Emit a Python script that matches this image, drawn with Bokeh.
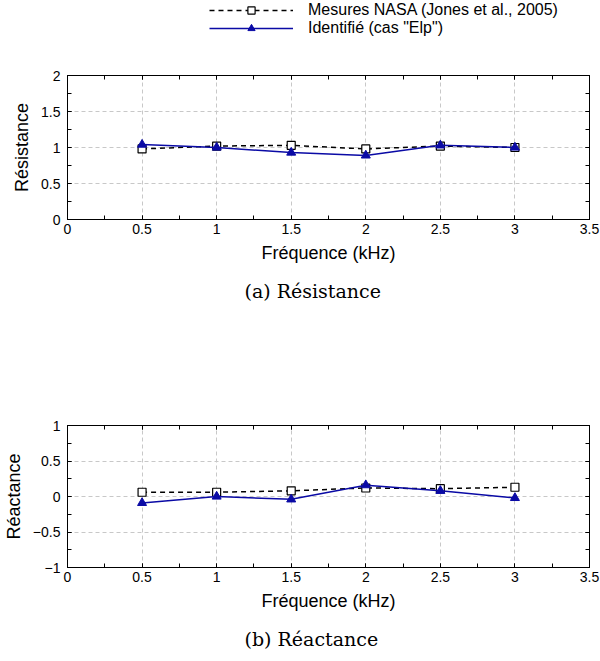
from bokeh.plotting import figure
from bokeh.layouts import column
from bokeh.models import (Range1d, SingleIntervalTicker, LinearAxis, Legend, LegendItem,
                          CustomJSTickFormatter)
from bokeh.embed import file_html
from bokeh.resources import INLINE

freq = [0.5, 1.0, 1.5, 2.0, 2.5, 3.0]
res_nasa = [0.98, 1.02, 1.03, 0.98, 1.02, 1.00]
res_ident = [1.04, 1.00, 0.93, 0.89, 1.03, 1.00]
rea_nasa = [0.06, 0.06, 0.08, 0.12, 0.11, 0.13]
rea_ident = [-0.09, 0.00, -0.04, 0.16, 0.08, -0.02]

label_nasa = "Mesures NASA (Jones et al., 2005)"
label_ident = 'Identifié (cas "Elp")'
xlabel = "Fréquence (kHz)"

SANS = "Liberation Sans"
SERIF = "DejaVu Serif"
BLUE = "#0A0AA5"
DASH = "5 4"

NASA_STYLE = dict(line_color="black", line_dash=DASH, line_width=1.5)
NASA_MARK = dict(marker="square", size=8, fill_color="white", line_color="black", line_width=1.2)
IDENT_STYLE = dict(line_color=BLUE, line_width=1.5)
IDENT_MARK = dict(marker="triangle", size=9, fill_color=BLUE, line_color=BLUE)


def style_axis(ax, show_labels=True):
    ax.ticker = SingleIntervalTicker(interval=0.5, num_minor_ticks=2)
    ax.major_tick_in = 4
    ax.major_tick_out = 0
    ax.minor_tick_in = 4
    ax.minor_tick_out = 0
    ax.axis_line_color = "black"
    ax.major_tick_line_color = "black"
    ax.minor_tick_line_color = "black"
    ax.major_label_text_font = SANS
    ax.major_label_text_font_size = "14px"
    ax.major_label_text_color = "black"
    ax.major_label_standoff = 4
    ax.axis_label_text_font = SANS
    ax.axis_label_text_font_size = "18px"
    ax.axis_label_text_font_style = "normal"
    ax.axis_label_text_color = "black"
    if not show_labels:
        ax.formatter = CustomJSTickFormatter(code="return ''")
        ax.major_label_standoff = 0


def make(yr, ylabel, caption, nasa, ident, height, top, bottom, cap_standoff):
    p = figure(width=600, height=height, output_backend="svg", toolbar_location=None,
               x_range=Range1d(0, 3.5), y_range=Range1d(*yr),
               min_border_left=66, min_border_right=11,
               min_border_top=top, min_border_bottom=bottom,
               title_location="below")
    p.outline_line_color = "black"
    p.xaxis.axis_label = xlabel
    p.yaxis.axis_label = ylabel
    style_axis(p.xaxis[0])
    style_axis(p.yaxis[0])
    p.yaxis.major_label_standoff = 7
    p.xaxis.axis_label_standoff = 6
    p.yaxis.axis_label_standoff = 6
    ra = LinearAxis()
    style_axis(ra, False)
    ta = LinearAxis()
    style_axis(ta, False)
    p.add_layout(ra, "right")
    p.add_layout(ta, "above")
    for g in (p.xgrid[0], p.ygrid[0]):
        g.grid_line_color = "#c8c8c8"
        g.grid_line_dash = "4 3"
        g.ticker = SingleIntervalTicker(interval=0.5)
    p.line(freq, nasa, **NASA_STYLE)
    p.scatter(freq, nasa, **NASA_MARK)
    p.line(freq, ident, **IDENT_STYLE)
    p.scatter(freq, ident, **IDENT_MARK)
    p.title.text = caption
    p.title.text_font = SERIF
    p.title.text_font_size = "19px"
    p.title.text_font_style = "normal"
    p.title.text_color = "black"
    p.title.align = "left"
    p.title.offset = 177
    p.title.standoff = cap_standoff
    return p


# legend strip on top (its renderers lie outside its visible range)
p0 = figure(width=600, height=40, output_backend="svg", toolbar_location=None,
            x_axis_type=None, y_axis_type=None, x_range=Range1d(10, 11), y_range=Range1d(10, 11),
            min_border_left=0, min_border_right=0, min_border_top=0, min_border_bottom=0)
p0.outline_line_color = None
p0.grid.visible = False
ln = p0.line(freq, res_nasa, **NASA_STYLE)
sn = p0.scatter(freq, res_nasa, **NASA_MARK)
li = p0.line(freq, res_ident, **IDENT_STYLE)
si = p0.scatter(freq, res_ident, **IDENT_MARK)
leg = Legend(items=[LegendItem(label=label_nasa, renderers=[ln, sn]),
                    LegendItem(label=label_ident, renderers=[li, si])],
             location=(142, 3), orientation="vertical")
leg.glyph_width = 84
leg.glyph_height = 18
leg.label_height = 18
leg.spacing = 0
leg.label_standoff = 15
leg.padding = 0
leg.margin = 0
leg.border_line_color = None
leg.background_fill_alpha = 0
leg.label_text_font = SANS
leg.label_text_font_size = "16px"
leg.label_text_color = "black"
p0.add_layout(leg, "center")

p1 = make((0, 2), "Résistance", "(a) Résistance", res_nasa, res_ident, 290, 35, 111, 24)
p2 = make((-1, 1), "Réactance", "(b) Réactance", rea_nasa, rea_ident, 331, 95, 93, 24)

layout = column(p0, p1, p2, spacing=0)
open("out.html", "w").write(file_html(layout, INLINE))
